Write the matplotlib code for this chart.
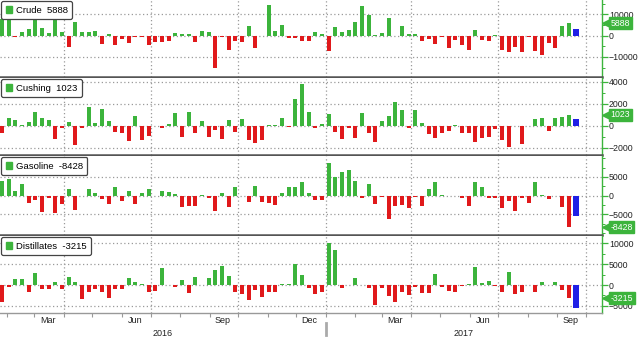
import matplotlib
matplotlib.use('Agg')
import matplotlib.pyplot as plt
import matplotlib.dates as mdates
import matplotlib.transforms as mtransforms
from matplotlib.patches import Patch
import pandas as pd

plt.rcParams['font.family'] = ['Liberation Sans', 'DejaVu Sans']

# weekly EIA inventory changes (thousand barrels), report dates
weeks = pd.date_range('2016-01-27', periods=86, freq='7D')
est_date = pd.Timestamp('2017-09-21')

crude = [8000, 8000, -500, 1900, 3100, 7800, 3400, 1100, 7800, 1500,
         -5400, 6200, 1500, 1500, 2300, -3900, 800, -4300, -1500, -3600,
         -500, -500, -4300, -2800, -2800, -2600, 1100, 800, 600, -3100,
         2000, 1900, -15000, -500, -6700, -2300, -3100, 4600, -5700, -300,
         14400, 2300, 5100, -1100, -1100, -2600, -2600, 1900, 600, -7300,
         3900, 1900, 2600, 6200, 14000, 9600, 500, 1200, 8200, -200,
         4600, 600, 1000, -2300, -1500, -3900, -500, -5700, -2000, -4600,
         -6700, 2600, -2000, -2600, 100, -6700, -7700, -5100, -7700, -500,
         -7000, -9300, -3600, -5700, 4700, 5888]
cushing = [-670, 760, 550, 50, 360, 1240, 700, 550, -1200, -200,
           360, -1730, -150, 1760, 300, 1500, 480, -570, -670, -1330,
           900, -1270, -900, -30, -150, 180, 1150, -1030, 1240, -670,
           450, -970, -360, -1150, 550, -570, 600, -1270, -1570, -1270,
           120, 60, 730, -60, 2420, 3800, 1240, -180, 180, 1060,
           -510, -1200, -210, -1120, 1150, -600, -1420, 480, 910, 2150,
           1450, -150, 1450, 300, -730, -1120, -670, -420, 90, -670,
           -670, -1420, -1120, -1030, -240, -1270, -1880, -30, -1640, -30,
           600, 700, -420, 760, 850, 1023]
gasoline = [4000, 4500, 1300, 3100, -2000, -1200, -4300, -500, -4500, -2300,
            1700, -3800, -100, 1800, 800, -1000, -2200, 2200, -1300, 1200,
            -2300, 700, 1700, -100, 1300, 900, 400, -3100, -2700, -2700,
            100, -500, -4000, 600, -2900, 2200, -100, -1600, 2600, -1800,
            -2000, -2500, 800, 2400, 2400, 3600, 600, -1200, -1200, 8600,
            5100, 6200, 6900, 4000, -500, 3000, -2300, -300, -6200, -2800,
            -2500, -3400, -300, -2800, 1800, 3600, 100, -100, -200, -500,
            -2700, 3600, 2400, -500, -500, -3400, -1400, -4100, -700, -2000,
            3600, 100, -1000, -100, -3000, -8428]
distillates = [-4000, -560, 1400, 1400, -1600, 2800, -970, -970, 800, -970,
               1850, 650, -3400, -1600, -1050, -1600, -3100, -1050, -1050, 1770,
               650, 150, -1770, -1450, 4200, -100, -560, 1200, -2000, 2000,
               100, 1600, 3500, 4600, 2200, -1770, -2260, -3600, -1200, -3000,
               -1770, -1770, 200, 200, 5000, 2400, -650, -2260, -1770, 10000,
               8300, -800, -50, 1600, 100, -650, -4800, -800, -2600, -4200,
               -1770, -2400, -400, -2000, -2000, 2700, -400, -1450, -1770, -250,
               300, 4400, 400, 1000, -250, -1770, 3100, -2200, -1770, -50,
               -1600, 650, 100, 650, -1200, -3215]

names = ['Crude', 'Cushing', 'Gasoline', 'Distillates']
series = [crude, cushing, gasoline, distillates]
estimates = [3000, 600, -5400, -5500]

GREEN = '#3cb43c'
RED = '#e0191b'
BLUE = '#1f1fe6'
DOTS = (0, (1, 2))

# layout, pixel rows of each panel
rows = [(0, 77), (78, 155), (156, 235), (236, 313)]
ylims = [(-19400, 16760), (-2640, 4360), (-10500, 10600), (-6730, 11780)]
yticks = [[-10000, 0, 10000], [-2000, 0, 2000, 4000],
          [-5000, 0, 5000], [-5000, 0, 5000, 10000]]
minor_step = [5000, 1000, 2500, 2500]
quarters = pd.date_range('2016-04-01', '2017-10-01', freq='QS')
W, H = 640, 340
right = 602 / W

fig = plt.figure(figsize=(6.4, 3.4), dpi=100)
fig.patch.set_facecolor('white')

axes = []
for k, (top, bot) in enumerate(rows):
    ax = fig.add_axes([0, 1 - bot / H, right, (bot - top) / H])
    axes.append(ax)
    vals = series[k]
    colors = [GREEN if v >= 0 else RED for v in vals]
    ax.bar(weeks, vals, width=4.2, color=colors, zorder=3)
    ax.bar([est_date], [estimates[k]], width=6.3, color=BLUE, zorder=3)

    ax.set_xlim(pd.Timestamp('2016-01-25'), pd.Timestamp('2017-10-18'))
    ax.set_ylim(*ylims[k])
    ax.set_yticks(yticks[k])
    ax.yaxis.set_minor_locator(plt.MultipleLocator(minor_step[k]))
    ax.yaxis.tick_right()
    ax.tick_params(axis='y', which='major', length=4, width=0.9, color=GREEN,
                   labelsize=6.3, labelcolor='#222222', pad=1)
    ax.tick_params(axis='y', which='minor', length=2, width=0.7, color=GREEN)
    ax.grid(axis='y', which='major', linestyle=DOTS, color='#9a9a9a', lw=0.9)
    for q in quarters:
        ax.axvline(q, linestyle=DOTS, color='#9a9a9a', lw=0.9, zorder=1)
    ax.set_axisbelow(True)

    for s in ['left', 'top']:
        ax.spines[s].set_visible(False)
    ax.spines['right'].set_color(GREEN)
    ax.spines['right'].set_linewidth(1.0)
    if k < 3:
        ax.spines['bottom'].set_color('#555555')
        ax.spines['bottom'].set_linewidth(1.8)
        ax.tick_params(axis='x', which='both', bottom=False, labelbottom=False)
    else:
        ax.spines['bottom'].set_color('#999999')
        ax.spines['bottom'].set_linewidth(1.0)

    last = vals[-1]
    leg = ax.legend(handles=[Patch(fc=GREEN, ec=GREEN)],
                    labels=[f'{names[k]}  {last}'], loc='upper left',
                    bbox_to_anchor=(0, 1), borderaxespad=0.15, fontsize=6.8,
                    handlelength=0.7, handleheight=0.7, handletextpad=0.4,
                    borderpad=0.45, fancybox=True, edgecolor='#444444',
                    framealpha=1)
    leg.get_frame().set_linewidth(0.9)

    # latest-value tag on the right axis
    tr = mtransforms.blended_transform_factory(ax.transAxes, ax.transData)
    ax.plot(1.006, last, marker='<', ms=6, color=GREEN, transform=tr,
            clip_on=False, zorder=9)
    ax.text(1.014, last, str(last), transform=tr, ha='left', va='center',
            fontsize=6.3, color='white', clip_on=False, zorder=10,
            bbox=dict(boxstyle='square,pad=0.18', fc=GREEN, ec=GREEN))

# bottom date axis
ax = axes[-1]
ax.xaxis.set_major_locator(mdates.MonthLocator(bymonth=[3, 6, 9, 12], bymonthday=15))
ax.xaxis.set_major_formatter(mdates.DateFormatter('%b'))
ax.xaxis.set_minor_locator(mdates.MonthLocator())
ax.tick_params(axis='x', which='major', length=0, labelsize=6.5, labelcolor='#222222', pad=2)
ax.tick_params(axis='x', which='minor', length=3, width=0.8, color='#999999')

trx = mtransforms.blended_transform_factory(ax.transData, ax.transAxes)
ax.text(pd.Timestamp('2016-07-14'), -0.27, '2016', transform=trx, ha='center',
        va='center', fontsize=6.5, color='#222222')
ax.text(pd.Timestamp('2017-05-26'), -0.27, '2017', transform=trx, ha='center',
        va='center', fontsize=6.5, color='#222222')
ax.plot([pd.Timestamp('2017-01-01')] * 2, [-0.13, -0.29], transform=trx,
        color='#aaaaaa', lw=2, clip_on=False)

fig.savefig('out.png', dpi=100, facecolor='white')
